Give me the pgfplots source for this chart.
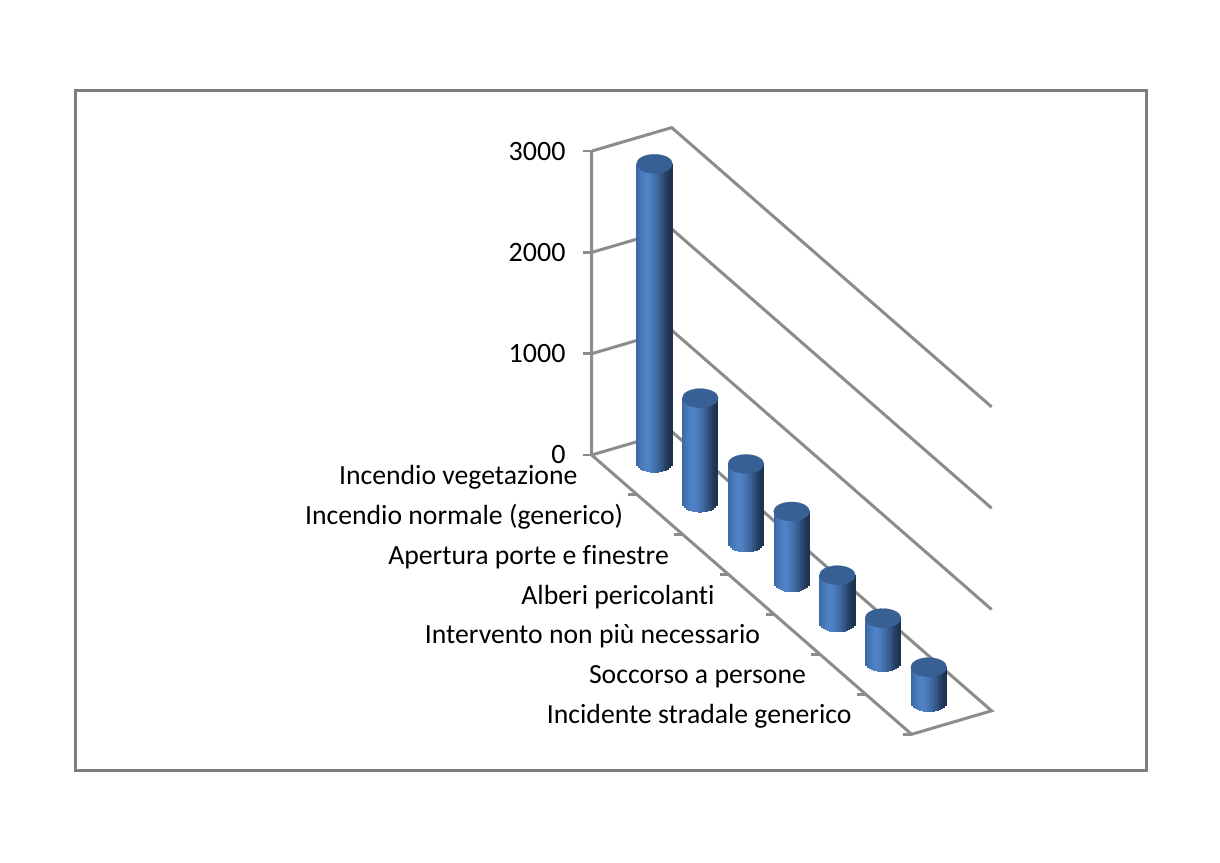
\documentclass[border=0pt]{standalone}
\usepackage{fontspec}
\setmainfont[Ligatures={NoCommon}]{Carlito}
\usepackage{pgfplots}
\usepackage{pgfplotstable}
\pgfplotsset{compat=1.18}

\definecolor{wallgray}{RGB}{140,140,140}
\definecolor{framegray}{RGB}{125,125,125}
\definecolor{captop}{RGB}{56,96,148}

% colour of the cylinder wall, left to right
\definecolor{cyl-17}{RGB}{60,106,166}
\definecolor{cyl-15}{RGB}{66,113,176}
\definecolor{cyl-13}{RGB}{70,119,184}
\definecolor{cyl-11}{RGB}{74,124,191}
\definecolor{cyl-9}{RGB}{78,128,196}
\definecolor{cyl-7}{RGB}{79,130,198}
\definecolor{cyl-5}{RGB}{78,128,195}
\definecolor{cyl-3}{RGB}{75,124,189}
\definecolor{cyl-1}{RGB}{71,118,180}
\definecolor{cyl1}{RGB}{67,112,171}
\definecolor{cyl3}{RGB}{63,105,161}
\definecolor{cyl5}{RGB}{58,97,149}
\definecolor{cyl7}{RGB}{53,88,136}
\definecolor{cyl9}{RGB}{47,78,122}
\definecolor{cyl11}{RGB}{41,68,107}
\definecolor{cyl13}{RGB}{36,60,94}
\definecolor{cyl15}{RGB}{31,53,84}
\definecolor{cyl17}{RGB}{29,50,80}

\pgfdeclareplotmark{capdown}{%
  \pgfpathrectangle{\pgfqpoint{-1.15pt}{0pt}}{\pgfqpoint{2.3pt}{-\pgfplotmarksize}}%
  \pgfusepathqfill}
\pgfdeclareplotmark{lefttick}{%
  \pgfpathrectangle{\pgfqpoint{-9pt}{-1.4pt}}{\pgfqpoint{9pt}{2.8pt}}%
  \pgfusepathqfill}

\pgfplotstableread{
x   depth base val
0.5 0.5   0    2955
1.5 0.5   0    1036
2.5 0.5   0    780
3.5 0.5   0    705
4.5 0.5   0    470
5.5 0.5   0    440
6.5 0.5   0    350
}\bars

\begin{document}
\begin{tikzpicture}
\path[use as bounding box] (0pt,0pt) rectangle (1220pt,862pt);
\fill[white] (0pt,0pt) rectangle (1220pt,862pt);
\draw[framegray, line width=3pt] (75pt,92pt) rectangle (1146pt,771pt);
\begin{axis}[
    at={(591.7pt,407pt)},
    anchor=origin,
    x={(45.7pt,-39.9pt)},
    y={(80pt,23.5pt)},
    z={(0pt,0.1013pt)},
    xmin=0, xmax=7,
    ymin=0, ymax=1,
    zmin=0, zmax=3000,
    clip=false,
    axis lines=left,
    axis line style={-, draw=none},
    tick style={draw=none},
    major tick length=0pt,
    xtick={0.5,1.5,2.5,3.5,4.5,5.5,6.5},
    xticklabels={Incendio vegetazione,Incendio normale (generico),Apertura porte e finestre,Alberi pericolanti,Intervento non più necessario,Soccorso a persone,Incidente stradale generico},
    x tick label style={anchor=east, font=\fontsize{27.7}{32}\selectfont, text=black, inner sep=0pt, xshift=-37pt, yshift=-2pt},
    ytick=\empty,
    ztick={0,1000,2000,3000},
    scaled z ticks=false,
    z tick label style={anchor=east, font=\fontsize{28}{32}\selectfont, text=black, inner sep=0pt, xshift=-26pt},
    /pgf/number format/assume math mode=true,
    /pgf/number format/1000 sep={},
]
% walls and floor
\addplot3[wallgray, line width=3pt, line join=miter] coordinates {(0,0,1000) (0,1,1000) (7,1,1000)};
\addplot3[wallgray, line width=3pt, line join=miter] coordinates {(0,0,2000) (0,1,2000) (7,1,2000)};
\addplot3[wallgray, line width=3pt, line join=miter] coordinates {(0,0,3000) (0,1,3000) (7,1,3000)};
\addplot3[wallgray, line width=3pt, line join=miter] coordinates {(0,0,3000) (0,0,0) (7,0,0) (7,1,0) (0,1,0) (0,0,0)};
% small ticks to the left
\addplot3[only marks, mark=lefttick, color=wallgray] coordinates {
    (0,0,0) (0,0,1000) (0,0,2000) (0,0,3000)
    (1,0,0) (2,0,0) (3,0,0) (4,0,0) (5,0,0) (6,0,0) (7,0,0)};
% cylinders, one strip at a time
\pgfplotsinvokeforeach{-17,-15,-13,-11,-9,-7,-5,-3,-1,1,3,5,7,9,11,13,15,17}{
  \addplot3[quiver={u=0, v=0, w=\thisrow{val}}, -, no marks, color=cyl#1, line width=2.3pt, xshift=#1pt]
    table[x=x, y=depth, z=base] {\bars};
  \addplot3[only marks, mark=capdown, color=cyl#1, mark size={9.5*sqrt(1-(#1/18)^2)*1pt}, xshift=#1pt]
    table[x=x, y=depth, z=base] {\bars};
}
\addplot3[only marks, mark=*, mark size=18pt, mark options={yscale=0.53, fill=captop, draw=captop, line width=0.2pt}]
    table[x=x, y=depth, z=val] {\bars};
\end{axis}
\end{tikzpicture}
\end{document}
